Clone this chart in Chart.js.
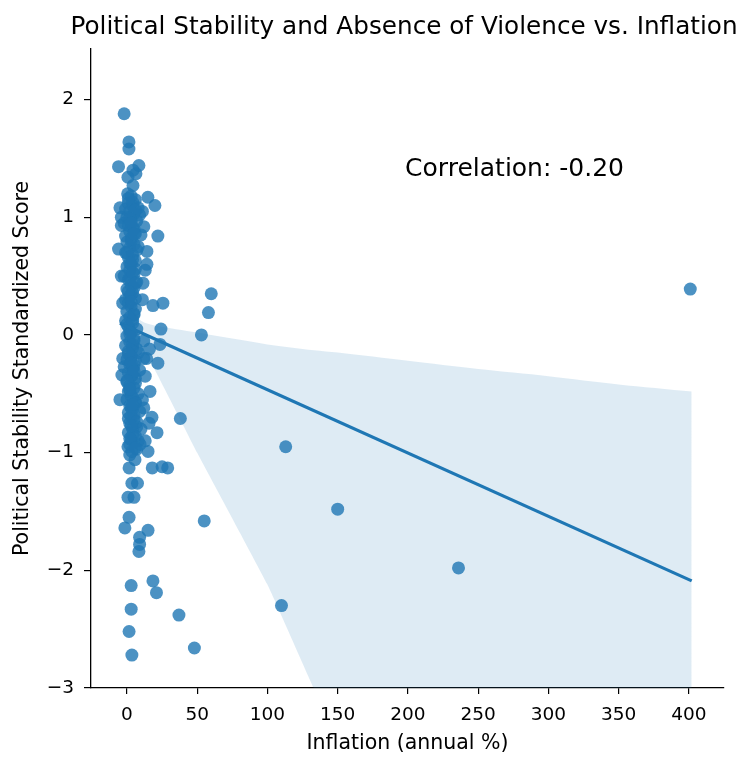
<!DOCTYPE html>
<html>
<head>
<meta charset="utf-8">
<script src="https://cdn.jsdelivr.net/npm/chart.js@4.4.1/dist/chart.umd.min.js"></script>
<style>
  html, body { margin: 0; padding: 0; background: #fff; }
  #wrap { width: 756px; height: 768px; }
</style>
</head>
<body>
<div id="wrap"><canvas id="scatterChart" width="756" height="768"></canvas></div>
<script>
// Inflation (annual %) per country, paired with political stability score
const inflation = [
  401, 236, 150, 113, 110, 60, 58, 53, 55, 48,
  37, 38, 29, 25, 18, 21, 18.5, 3, 3, 1.5,
  3.5, 1.5, -1.5, 15, 9, 9, 8.5, 3.5, 7.5, 0.7,
  5, 1.5, 21.4, 15, 17.8, 15.7, 14.9, 19.9, 22, 14.2,
  14.2, 11.4, 18.5, 25.6, 24.2, 23.5, 22, 16.4, -3.6, 12,
  16, -2, 1.4, 1.4, -6, 8.5, 4.3, 0.7, 6.4, 4.3,
  0.7, 9.3, 2, 5.7, 3.5, 7,
  0.5, 3, 6, 1, 4, 8, -1, 2, 5, 0,
  3, 7, -2, 1, 4, 9, 2, 6, -1, 3,
  0, 5, 2, 8, -1, 4, 1, 6, 3, 0,
  2, 5, -2, 1, 7, 3, 0, 4, 2, -1,
  6, 1, 3, 0, 5, 2, -1, 4, 1, 7,
  3, 0, 5, 2, -1, 4, 1, 8, 3, 0,
  6, 2, -2, 4, 1, 9, 3, 6, 0, 2,
  5, 1, 8, 3, 0, 6, 2, 4, 1, 9,
  3, 5, 2, 7, 4, 1, 6, 3, 8, 2,
  -4, -5, -4, -6, -4, -3, -3, -5, 11, 12,
  10, 13, 11, 12, 14, 13, 11, 12, 10, 13,
  4, 6, 2, 5, 3, 7, 4, 6, 2, 5,
  3, 6, 4, 2, 5, 7, 3, 5, 4, 6,
  2, 4, 6, 3, 5, 1, 7, 4, 2, 6,
  1, 3, 5, 0, 2, 4, 6, 1, 3, 5,
  0, 2, 4, 1, 3, 5, 0, 2, 4, 3
];
const stability = [
  0.39, -1.98, -1.48, -0.95, -2.30, 0.35, 0.19, 0.00, -1.58, -2.66,
  -2.38, -0.71, -1.13, -1.12, -1.13, -2.19, -2.09, -2.13, -2.33, -2.52,
  -2.72, -1.55, -1.64, -1.66, -1.72, -1.78, -1.84, -1.26, -1.26, -1.38,
  -1.38, -1.13, -0.83, -0.99, -0.70, -0.75, 1.17, 1.10, 0.84, 0.71,
  0.60, 0.44, 0.25, 0.27, 0.05, -0.08, -0.24, -0.48, -0.34, -0.20,
  -0.12, 1.88, 1.64, 1.58, 1.43, 1.44, 1.40, 1.34, 1.37, 1.27,
  -0.95, -0.93, -1.02, -1.06, -0.99, -0.97,
  1.20, 1.18, 1.15, 1.12, 1.10, 1.08, 1.07, 1.05, 1.03, 1.00,
  0.98, 0.97, 0.95, 0.93, 0.91, 1.02, 0.88, 0.86, 0.84, 0.82,
  0.79, 0.77, 0.74, 0.75, 0.70, 0.68, 0.66, 0.63, 0.60, 0.58,
  0.55, 0.52, 0.50, 0.47, 0.45, 0.42, 0.39, 0.36, 0.33, 0.30,
  0.31, 0.27, 0.24, 0.20, 0.18, 0.15, 0.12, 0.10, 0.07, 0.05,
  0.02, -0.01, -0.03, -0.06, -0.09, -0.11, -0.14, -0.15, -0.18, -0.21,
  -0.22, -0.25, -0.27, -0.29, -0.32, -0.30, -0.35, -0.37, -0.40, -0.43,
  -0.45, -0.48, -0.50, -0.52, -0.55, -0.57, -0.60, -0.63, -0.66, -0.65,
  -0.69, -0.72, -0.75, -0.78, -0.80, -0.83, -0.86, -0.89, -0.90, -0.93,
  1.00, 1.08, 0.93, 0.73, 0.50, 0.27, -0.20, -0.55, 1.05, 0.92,
  0.85, 0.55, 0.30, -0.05, -0.20, -0.35, -0.55, -0.62, -0.80, -0.90,
  1.13, 1.06, 0.99, 0.90, 0.80, 0.72, 0.64, 0.56, 0.48, 0.40,
  0.34, 0.22, 0.13, 0.04, -0.05, -0.12, -0.19, -0.26, -0.34, -0.41,
  -0.47, -0.53, -0.58, -0.62, -0.68, -0.71, -0.74, -0.85, -0.88, -0.96,
  1.16, 0.95, 0.86, 0.70, 0.61, 0.53, 0.44, 0.37, 0.28, 0.17,
  0.09, 0.01, -0.08, -0.16, -0.24, -0.31, -0.39, -0.46, -0.59, -0.77
];

// Fitted regression line end points
const fitX = [-5, 402];
const fitY = [0.10, -2.09];

// 95% confidence band edges
const bandX = [-5, 0, 10, 20, 50, 100, 133, 150, 200, 250, 300, 350, 402];
const bandUpper = [0.36, 0.25, 0.12, 0.08, 0.02, -0.08, -0.13, -0.15, -0.22, -0.29, -0.35, -0.42, -0.48];
const bandLower = [-0.04, -0.05, -0.12, -0.30, -1.00, -2.12, -3.00, -3.40, -4.80, -6.10, -7.50, -8.90, -10.30];

const yTicks = [-3, -2, -1, 0, 1, 2];
const xTicks = [0, 50, 100, 150, 200, 250, 300, 350, 400];

const titleText = 'Political Stability and Absence of Violence vs. Inflation';
const corrText = 'Correlation: -0.20';

const FONT = 'DejaVu Sans';
const BLUE = 'rgba(31, 119, 180, 0.8)';

const points = inflation.map((x, i) => ({ x: x, y: stability[i] }));
const fitLine = fitX.map((x, i) => ({ x: x, y: fitY[i] }));
const upperEdge = bandX.map((x, i) => ({ x: x, y: bandUpper[i] }));
const lowerEdge = bandX.map((x, i) => ({ x: x, y: bandLower[i] }));

// Title and correlation annotation
const textPlugin = {
    id: 'textPlugin',
    afterDraw: (chart) => {
        const ctx = chart.ctx;
        const area = chart.chartArea;
        ctx.save();
        ctx.fillStyle = '#000';
        ctx.textAlign = 'center';
        ctx.textBaseline = 'middle';
        ctx.font = '24.7px "' + FONT + '"';
        ctx.fillText(titleText, 404, 28);

        ctx.textAlign = 'left';
        ctx.font = '25px "' + FONT + '"';
        const px = chart.scales.x.getPixelForValue(198);
        const py = chart.scales.y.getPixelForValue(1.41);
        ctx.fillText(corrText, px, py);
        ctx.restore();
    }
};

const ctx = document.getElementById('scatterChart').getContext('2d');
window.scatterChart = new Chart(ctx, {
    type: 'scatter',
    data: {
        datasets: [
            {
                type: 'line',
                data: fitLine,
                borderColor: '#1f77b4',
                borderWidth: 3.2,
                pointRadius: 0,
                fill: false,
                order: 0
            },
            {
                type: 'line',
                data: upperEdge,
                borderWidth: 0,
                borderColor: 'rgba(0,0,0,0)',
                backgroundColor: 'rgba(31, 119, 180, 0.15)',
                pointRadius: 0,
                fill: '+1',
                tension: 0.3,
                order: 1
            },
            {
                type: 'line',
                data: lowerEdge,
                borderWidth: 0,
                borderColor: 'rgba(0,0,0,0)',
                pointRadius: 0,
                fill: false,
                tension: 0.1,
                order: 2
            },
            {
                data: points,
                backgroundColor: BLUE,
                borderWidth: 0,
                pointRadius: 6.5,
                order: 3
            }
        ]
    },
    options: {
        responsive: false,
        animation: false,
        devicePixelRatio: 1,
        layout: {
            padding: { top: 49, right: 32, left: 0, bottom: 0 }
        },
        scales: {
            x: {
                type: 'linear',
                min: -25.6,
                max: 425,
                afterFit: (s) => { s.height = 80; },
                afterBuildTicks: (s) => { s.ticks = xTicks.map(v => ({ value: v })); },
                border: { display: true, color: '#000', width: 1.3 },
                grid: { drawOnChartArea: false, drawTicks: true, tickLength: 6, color: '#000', lineWidth: 1.2 },
                ticks: { color: '#000', font: { family: FONT, size: 18.5 }, padding: 10, maxRotation: 0 },
                title: {
                    display: true,
                    text: 'Inflation (annual %)',
                    color: '#000',
                    font: { family: FONT, size: 20.5 },
                    padding: { top: 0, bottom: 12 }
                }
            },
            y: {
                type: 'linear',
                min: -3,
                max: 2.43,
                afterFit: (s) => { s.width = 91; },
                afterBuildTicks: (s) => { s.ticks = yTicks.map(v => ({ value: v })); },
                border: { display: true, color: '#000', width: 1.3 },
                grid: { drawOnChartArea: false, drawTicks: true, tickLength: 7, color: '#000', lineWidth: 1.2 },
                ticks: {
                    color: '#000',
                    font: { family: FONT, size: 18.5 },
                    padding: 10,
                    callback: (v) => (v < 0 ? '\u2212' + Math.abs(v) : String(v))
                },
                title: {
                    display: true,
                    text: 'Political Stability Standardized Score',
                    color: '#000',
                    font: { family: FONT, size: 20.5 },
                    padding: { top: 10, bottom: 0 }
                }
            }
        },
        plugins: {
            legend: { display: false },
            tooltip: { enabled: false },
            title: { display: false }
        }
    },
    plugins: [textPlugin]
});
</script>
</body>
</html>
